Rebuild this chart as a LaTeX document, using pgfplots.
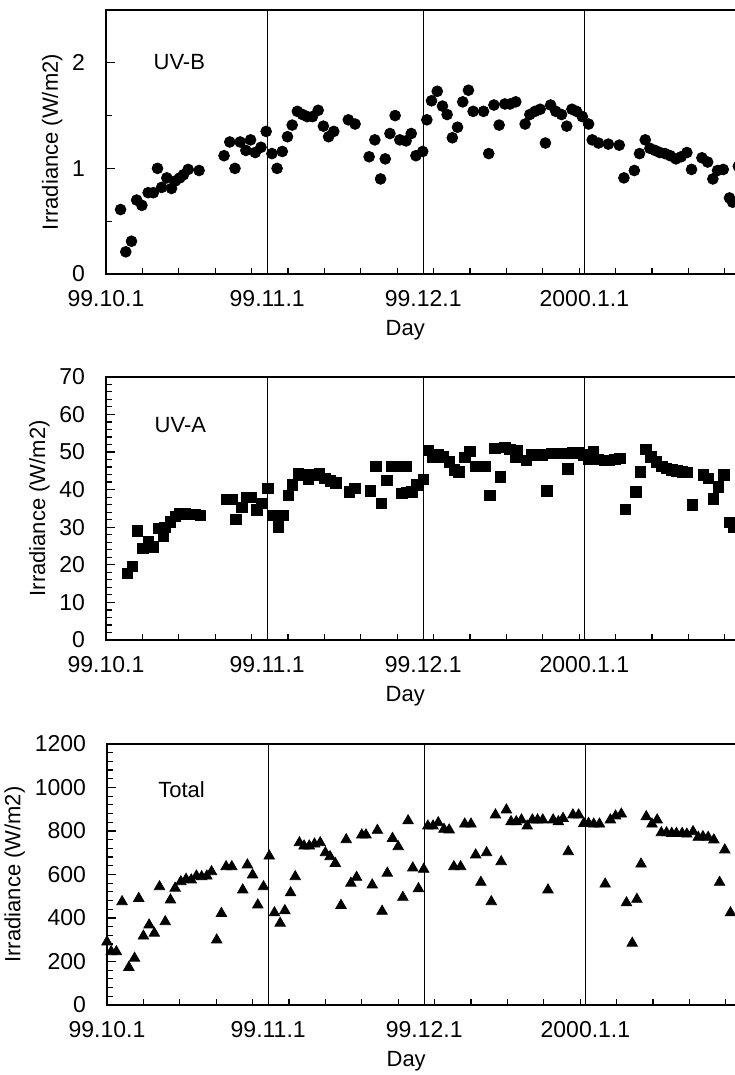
\documentclass[border=0pt]{standalone}
\usepackage{fontspec}
\setmainfont{Liberation Sans}
\usepackage{pgfplots}
\pgfplotsset{compat=1.18}
\newcommand{\tf}{\fontsize{11}{13}\selectfont}
\newcommand{\tkf}{\fontsize{11.5}{13}\selectfont}
\pgfplotsset{
 panel/.style={
  scale only axis,
  width=322.4pt,
  xmin=0, xmax=124,
  xtick={0,31,61,92},
  xticklabels={99.10.1,99.11.1,99.12.1,2000.1.1},
  minor xtick={7,14,...,119},
  xmajorgrids,
  major grid style={black, line width=0.6pt},
  xtick pos=bottom, ytick pos=left,
  tick align=inside,
  major tick length=4.5pt, minor tick length=3pt,
  tick style={black, line width=0.6pt},
  axis line style={line width=0.9pt},
  /pgf/number format/assume math mode=true,
  /pgf/number format/1000 sep={},
  scaled y ticks=false,
  xticklabel style={font=\tkf, anchor=north, yshift=-4.5pt},
  yticklabel style={font=\tkf, anchor=east, xshift=-7pt},
  xlabel={Day},
  xlabel style={font=\tf, at={(rel axis cs:0.464,0)}, anchor=center, yshift=-28pt},
  ylabel={Irradiance (W/m2)},
  ylabel style={font=\tf, yshift=-2pt},
  clip=false,
 }
}
\pgfplotstableread{
x y
2.8 0.61
3.8 0.21
4.9 0.31
5.9 0.70
6.9 0.65
8.1 0.77
9.1 0.77
9.9 1.00
10.7 0.82
11.7 0.91
12.6 0.81
13.3 0.88
14.2 0.91
14.9 0.94
15.8 0.99
17.9 0.98
22.7 1.12
23.8 1.25
24.8 1.00
25.8 1.25
26.9 1.17
27.8 1.27
28.7 1.15
29.8 1.20
30.8 1.35
31.9 1.14
32.9 1.00
33.9 1.16
34.9 1.30
35.8 1.41
36.8 1.54
37.8 1.51
38.7 1.49
39.7 1.49
40.8 1.55
41.8 1.40
42.8 1.30
43.8 1.35
46.6 1.46
47.9 1.42
50.6 1.11
51.7 1.27
52.8 0.90
53.7 1.09
54.6 1.33
55.6 1.50
56.5 1.27
57.7 1.26
58.7 1.33
59.6 1.12
60.9 1.16
61.7 1.46
62.6 1.64
63.7 1.73
64.7 1.59
65.6 1.51
66.6 1.29
67.6 1.39
68.6 1.63
69.7 1.74
70.6 1.54
72.6 1.54
73.6 1.14
74.6 1.60
75.6 1.41
76.7 1.61
77.7 1.61
78.8 1.63
80.6 1.42
81.5 1.51
82.5 1.54
83.5 1.56
84.5 1.24
85.5 1.60
86.5 1.54
87.6 1.51
88.6 1.40
89.6 1.56
90.5 1.54
91.6 1.49
92.8 1.42
93.5 1.27
94.7 1.24
96.6 1.23
98.7 1.22
99.6 0.91
101.6 0.98
102.6 1.14
103.7 1.27
104.6 1.19
105.6 1.17
106.5 1.15
107.5 1.14
108.5 1.12
109.6 1.09
110.6 1.11
111.7 1.15
112.6 0.99
114.6 1.10
115.7 1.06
116.7 0.90
117.6 0.98
118.7 0.99
119.9 0.72
120.5 0.68
121.6 1.02
}\uvb
\pgfplotstableread{
x y
4.1 17.7
5.1 19.5
6.0 29.0
7.1 24.4
8.1 26.1
9.1 24.8
10.1 29.7
11.0 27.5
11.3 30.0
12.4 31.4
13.3 32.8
14.2 33.5
15.2 33.5
16.2 33.4
17.1 33.4
18.1 33.2
23.2 37.4
24.2 37.4
25.0 32.1
26.1 35.3
27.1 37.9
28.0 37.9
29.0 34.6
29.9 36.3
31.1 40.3
32.2 33.2
33.1 30.1
34.1 33.2
35.1 38.5
35.9 41.2
37.0 44.3
37.9 43.9
38.9 42.7
39.9 43.9
41.0 44.3
42.1 43.0
43.2 42.3
44.2 41.8
46.8 39.4
47.9 40.3
50.9 39.7
51.9 46.1
53.0 36.3
54.0 42.5
54.9 46.1
55.9 46.1
56.9 46.1
57.8 46.1
56.9 39.0
57.8 39.2
58.8 39.4
59.8 41.2
61.0 42.7
62.0 50.5
62.9 48.7
63.9 49.2
64.9 48.7
66.0 47.4
67.0 45.2
67.9 44.7
69.0 48.6
70.0 50.2
71.0 46.1
72.9 46.1
73.8 38.5
74.8 51.0
75.8 43.4
76.7 51.2
77.7 50.7
78.7 48.7
79.0 50.5
80.9 47.8
81.9 49.2
82.8 49.2
83.8 49.2
84.8 39.7
85.7 49.6
86.8 49.6
87.8 49.6
88.8 45.5
89.8 49.8
90.8 49.8
91.8 49.2
92.8 48.0
93.7 50.1
94.7 48.0
95.8 47.8
96.8 47.8
97.9 48.0
98.8 48.3
99.9 34.7
101.9 39.4
102.8 44.7
103.8 50.7
104.8 48.7
105.8 47.4
106.9 46.1
107.8 45.6
108.8 45.2
109.8 45.0
110.8 44.7
111.8 44.5
112.8 35.9
114.9 43.9
115.8 43.0
116.8 37.5
117.8 40.7
118.8 43.9
120.0 31.2
120.7 30.1
}\uva
\pgfplotstableread{
x y
0.0 290
0.8 245
1.8 245
2.9 475
4.2 173
5.3 215
6.1 490
7.0 317
8.1 368
9.1 330
10.1 544
11.2 383
12.2 483
13.1 537
14.2 567
15.2 578
16.2 575
17.2 593
18.2 590
19.2 593
20.1 613
21.1 299
22.0 421
22.9 636
24.0 636
26.1 529
27.0 644
28.0 598
29.0 460
30.1 544
31.2 685
32.2 424
33.3 376
34.2 434
35.3 516
36.2 590
37.0 746
37.9 731
38.9 731
39.9 740
41.0 746
42.0 700
42.9 682
43.9 651
45.0 458
46.0 760
46.9 560
48.0 587
49.0 782
49.8 782
51.0 552
52.0 803
52.9 431
53.9 606
54.9 766
56.0 728
56.9 495
57.9 847
58.8 630
59.9 535
60.9 624
61.7 823
62.7 823
63.7 838
64.8 808
65.8 805
66.7 636
68.0 636
68.8 832
70.0 832
70.9 690
71.9 564
73.0 700
73.9 475
74.7 874
75.8 659
76.8 897
77.7 843
78.7 843
79.7 851
80.8 823
81.8 851
82.8 851
83.8 851
84.8 529
85.8 851
86.8 843
87.7 858
88.7 705
89.6 874
90.7 874
91.7 835
92.6 835
93.6 832
94.7 832
95.8 556
96.8 851
97.8 869
98.9 878
99.9 470
101.0 284
101.9 486
102.7 648
103.7 866
104.8 832
105.8 851
106.6 792
107.6 792
108.6 789
109.5 789
110.6 789
111.5 786
112.7 797
113.7 771
114.6 774
115.6 771
116.7 759
117.8 564
118.8 713
119.9 424
}\total
\begin{document}
\begin{tikzpicture}
\useasboundingbox (0,0) rectangle (367pt,537.5pt);
% UV-B
\begin{axis}[panel, at={(53pt,400.5pt)}, anchor=south west, height=132pt,
  ymin=0, ymax=2.5, ytick={0,1,2}, minor ytick={0.5,1.5}]
\addplot[only marks, mark=*, mark size=2.7pt, black] table[x=x,y=y] {\uvb};
\node[anchor=west, font=\tf] at (axis cs:7.8,2.01) {UV-B};
\end{axis}
% UV-A
\begin{axis}[panel, at={(53pt,217.5pt)}, anchor=south west, height=131.6pt,
  ymin=0, ymax=70, ytick={0,10,...,70}, minor y tick num=4]
\addplot[only marks, mark=square*, mark size=2.6pt, black] table[x=x,y=y] {\uva};
\node[anchor=west, font=\tf] at (axis cs:8,57.2) {UV-A};
\end{axis}
% Total
\begin{axis}[panel, at={(53.5pt,35pt)}, anchor=south west, height=130.5pt,
  ymin=0, ymax=1200, ytick={0,200,...,1200}, minor y tick num=4]
\addplot[only marks, mark=triangle*, mark size=3pt, black] table[x=x,y=y] {\total};
\node[anchor=west, font=\tf] at (axis cs:8.5,988) {Total};
\end{axis}
\end{tikzpicture}
\end{document}
